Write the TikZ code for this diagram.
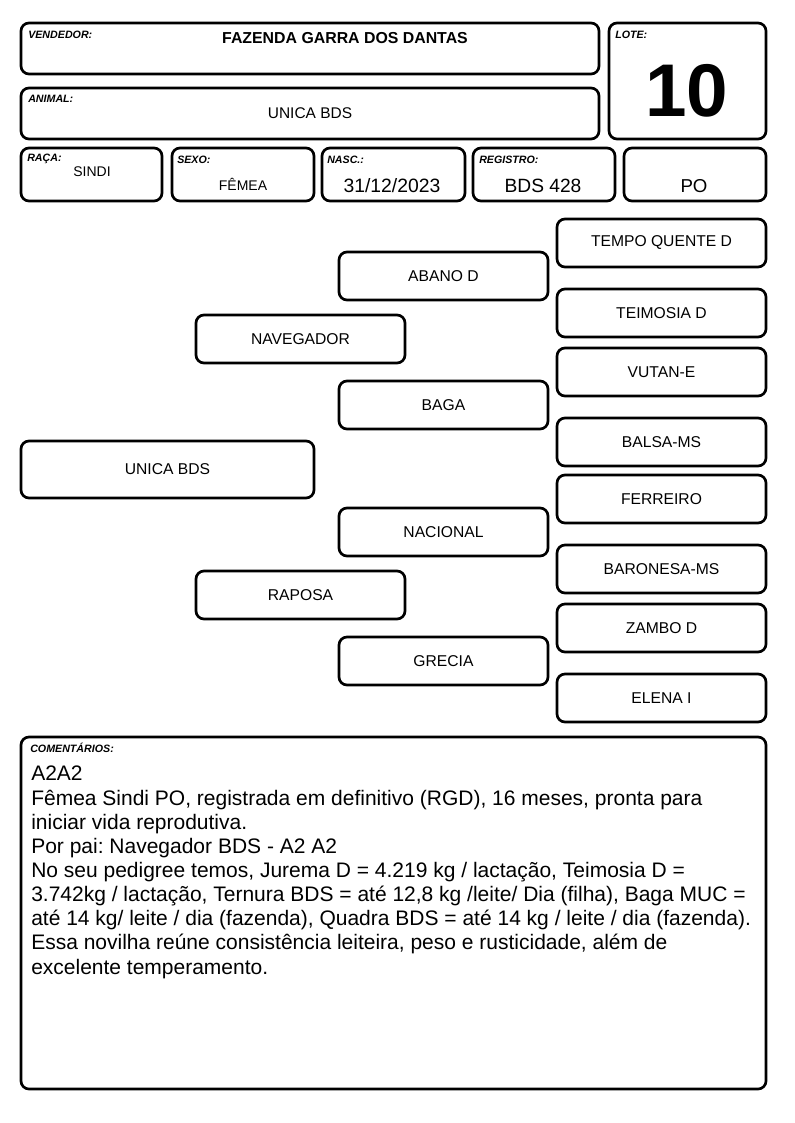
\documentclass[tikz,border=0pt]{standalone}
\usepackage{fontspec}
\setmainfont{Liberation Sans}
\frenchspacing
\newcommand\mycomfont{\fontsize{15.75pt}{18.1pt}\selectfont\lineskiplimit-20pt\relax\lineskip0pt\relax}
\begin{document}
\begin{tikzpicture}[x=0.75pt,y=-0.75pt,
  pbox/.style={draw, line width=2pt, rounded corners=6pt, inner sep=0pt, align=center},
  hdr/.style={pbox},
  lab/.style={anchor=west, inner sep=0pt, font=\fontsize{8pt}{9pt}\selectfont\bfseries\itshape},
  rcol/.style={pbox, minimum width=156.75pt, minimum height=36pt, font=\fontsize{11.75pt}{13pt}\selectfont},
  val/.style={inner sep=0pt}
]
\useasboundingbox (0,0) rectangle (794,1123);
% header boxes
\node[hdr, minimum width=433.5pt, minimum height=38.25pt] (vend) at (310,48.5) {};
\node[hdr, minimum width=117.75pt, minimum height=87pt] (lote) at (687.5,81) {};
\node[hdr, minimum width=433.5pt, minimum height=38.25pt] (anim) at (310,113.5) {};
\node[hdr, minimum width=105.75pt, minimum height=39.75pt] (raca) at (91.5,174.5) {};
\node[hdr, minimum width=106.5pt, minimum height=39.75pt] (sexo) at (243,174.5) {};
\node[hdr, minimum width=107.25pt, minimum height=39.75pt] (nasc) at (393.5,174.5) {};
\node[hdr, minimum width=106.5pt, minimum height=39.75pt] (reg) at (544,174.5) {};
\node[hdr, minimum width=106.5pt, minimum height=39.75pt] (po) at (695,174.5) {};
% labels
\node[lab] (lvend) at (28,35) {VENDEDOR:};
\node[lab] (llote) at (615,34.5) {LOTE:};
\node[lab] (lanim) at (28,99) {ANIMAL:};
\node[lab] (lraca) at (27,158.5) {RAÇA:};
\node[lab] (lsexo) at (177,160) {SEXO:};
\node[lab] (lnasc) at (327,160) {NASC.:};
\node[lab] (lreg) at (479,160) {REGISTRO:};
% values
\node[val, font=\fontsize{11.9pt}{13pt}\selectfont\bfseries] (tvend) at (345,38) {FAZENDA GARRA DOS DANTAS};
\node[val, font=\fontsize{56pt}{60pt}\selectfont\bfseries] (tlote) at (687,91) {10};
\node[val, font=\fontsize{11.6pt}{13pt}\selectfont] (tanim) at (310,113) {UNICA BDS};
\node[val, font=\fontsize{10.5pt}{12pt}\selectfont] (traca) at (92,172) {SINDI};
\node[val, font=\fontsize{10.5pt}{12pt}\selectfont] (tsexo) at (243,184) {FÊMEA};
\node[val, font=\fontsize{14.5pt}{16pt}\selectfont] (tnasc) at (392,186) {31/12/2023};
\node[val, font=\fontsize{14.4pt}{16pt}\selectfont] (treg) at (543,186) {BDS 428};
\node[val, font=\fontsize{14pt}{16pt}\selectfont] (tpo) at (694,186) {PO};
% pedigree
\node[rcol] (tq) at (661.5,243) {TEMPO QUENTE D};
\node[rcol] (te) at (661.5,313) {TEIMOSIA D};
\node[rcol] (vu) at (661.5,372) {VUTAN-E};
\node[rcol] (ba) at (661.5,442) {BALSA-MS};
\node[rcol] (fe) at (661.5,499) {FERREIRO};
\node[rcol] (bn) at (661.5,569) {BARONESA-MS};
\node[rcol] (za) at (661.5,628) {ZAMBO D};
\node[rcol] (el) at (661.5,698) {ELENA I};
\node[rcol] (ab) at (443.5,276) {ABANO D};
\node[rcol] (bg) at (443.5,405) {BAGA};
\node[rcol] (na) at (443.5,532) {NACIONAL};
\node[rcol] (gr) at (443.5,661) {GRECIA};
\node[rcol] (nv) at (300.5,339) {NAVEGADOR};
\node[rcol] (ra) at (300.5,595) {RAPOSA};
\node[rcol, minimum width=219.75pt, minimum height=42.75pt] (un) at (167.5,469.5) {UNICA BDS};
% comments
\node[hdr, minimum width=558.75pt, minimum height=264pt] (com) at (393.5,913) {};
\node[lab] (lcom) at (30,748) {COMENTÁRIOS:};
\node[anchor=north west, inner sep=0pt] (tcom) at (31,766) {\parbox[t]{545pt}{\raggedright\mycomfont A2A2\\
Fêmea Sindi PO, registrada em definitivo (RGD), 16 meses, pronta para\\
iniciar vida reprodutiva.\\
Por pai: Navegador BDS - A2 A2\\
No seu pedigree temos, Jurema D = 4.219 kg / lactação, Teimosia D =\\
3.742kg / lactação, Ternura BDS = até 12,8 kg /leite/ Dia (filha), Baga MUC =\\
até 14 kg/ leite / dia (fazenda), Quadra BDS = até 14 kg / leite / dia (fazenda).\\
Essa novilha reúne consistência leiteira, peso e rusticidade, além de\\
excelente temperamento.\par}};
\end{tikzpicture}
\end{document}
